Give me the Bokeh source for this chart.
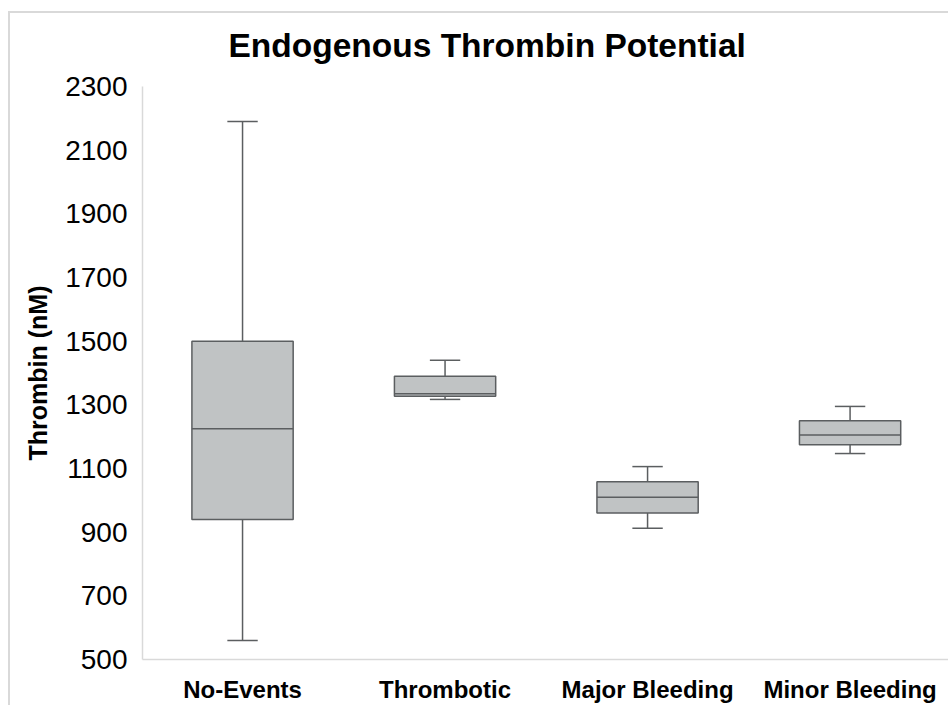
from bokeh.plotting import figure
from bokeh.models import Range1d, FixedTicker
from bokeh.embed import file_html
from bokeh.resources import INLINE

# ---- data ----
categories = ["No-Events", "Thrombotic", "Major Bleeding", "Minor Bleeding"]
whisker_low = [560, 1317, 912, 1147]
q1 = [940, 1327, 960, 1175]
median = [1225, 1335, 1010, 1205]
q3 = [1500, 1390, 1058, 1250]
whisker_high = [2190, 1440, 1106, 1295]
y_ticks = [500, 700, 900, 1100, 1300, 1500, 1700, 1900, 2100, 2300]

FONT = "Liberation Sans"
BOX_FILL = "#c0c3c4"
LINE = "#5b5e60"
AXIS = "#d9d9d9"

xs = list(range(len(categories)))
box_w = 0.5
cap_w = 0.15

p = figure(width=948, height=705, output_backend="svg", toolbar_location=None,
           x_range=Range1d(-0.494, 3.486), y_range=Range1d(y_ticks[0], y_ticks[-1]),
           min_border_left=142, min_border_top=86, min_border_bottom=46, min_border_right=0,
           tools="")
p.outline_line_color = None
p.grid.visible = False
p.background_fill_color = "white"
p.border_fill_alpha = 0
p.styles = {
    "background": ("linear-gradient(#d9d9d9,#d9d9d9) 8px 11px / 2px 100% no-repeat, "
                   "linear-gradient(#d9d9d9,#d9d9d9) 8px 11px / 100% 2px no-repeat, white"),
}

# whiskers
p.segment(x0=xs, x1=xs, y0=q3, y1=whisker_high, line_color=LINE, line_width=1.5)
p.segment(x0=xs, x1=xs, y0=q1, y1=whisker_low, line_color=LINE, line_width=1.5)
p.segment(x0=[x - cap_w / 2 for x in xs], x1=[x + cap_w / 2 for x in xs],
          y0=whisker_high, y1=whisker_high, line_color=LINE, line_width=1.5)
p.segment(x0=[x - cap_w / 2 for x in xs], x1=[x + cap_w / 2 for x in xs],
          y0=whisker_low, y1=whisker_low, line_color=LINE, line_width=1.5)
# boxes
p.vbar(x=xs, width=box_w, bottom=q1, top=q3, fill_color=BOX_FILL,
       line_color=LINE, line_width=1.5)
# medians
p.segment(x0=[x - box_w / 2 for x in xs], x1=[x + box_w / 2 for x in xs],
          y0=median, y1=median, line_color=LINE, line_width=1.5)

# axes
p.yaxis.ticker = FixedTicker(ticks=y_ticks)
p.yaxis.axis_label = "Thrombin (nM)"
p.yaxis.axis_label_text_font = FONT
p.yaxis.axis_label_text_font_style = "bold"
p.yaxis.axis_label_text_font_size = "25px"
p.yaxis.axis_label_text_color = "#000000"
p.yaxis.axis_label_standoff = 10
p.yaxis.major_label_text_font = FONT
p.yaxis.major_label_text_font_size = "28px"
p.yaxis.major_label_text_color = "#000000"
p.yaxis.major_label_standoff = 9
p.yaxis.axis_line_color = AXIS
p.yaxis.axis_line_width = 1.5
p.yaxis.major_tick_line_color = None
p.yaxis.minor_tick_line_color = None

p.xaxis.ticker = FixedTicker(ticks=xs)
p.xaxis.major_label_overrides = {x: c for x, c in zip(xs, categories)}
p.xaxis.major_label_text_font = FONT
p.xaxis.major_label_text_font_style = "bold"
p.xaxis.major_label_text_font_size = "24px"
p.xaxis.major_label_text_color = "#000000"
p.xaxis.major_label_standoff = 10
p.xaxis.axis_line_color = AXIS
p.xaxis.axis_line_width = 1.5
p.xaxis.major_tick_line_color = None
p.xaxis.minor_tick_line_color = None

# title
p.title.text = "Endogenous Thrombin Potential"
p.title.text_font = FONT
p.title.text_font_style = "bold"
p.title.text_font_size = "33.5px"
p.title.text_color = "#000000"
p.title.align = "left"
p.title.offset = 86
p.title.standoff = 46
p.title.vertical_align = "bottom"

open("out.html", "w").write(file_html(p, INLINE))
